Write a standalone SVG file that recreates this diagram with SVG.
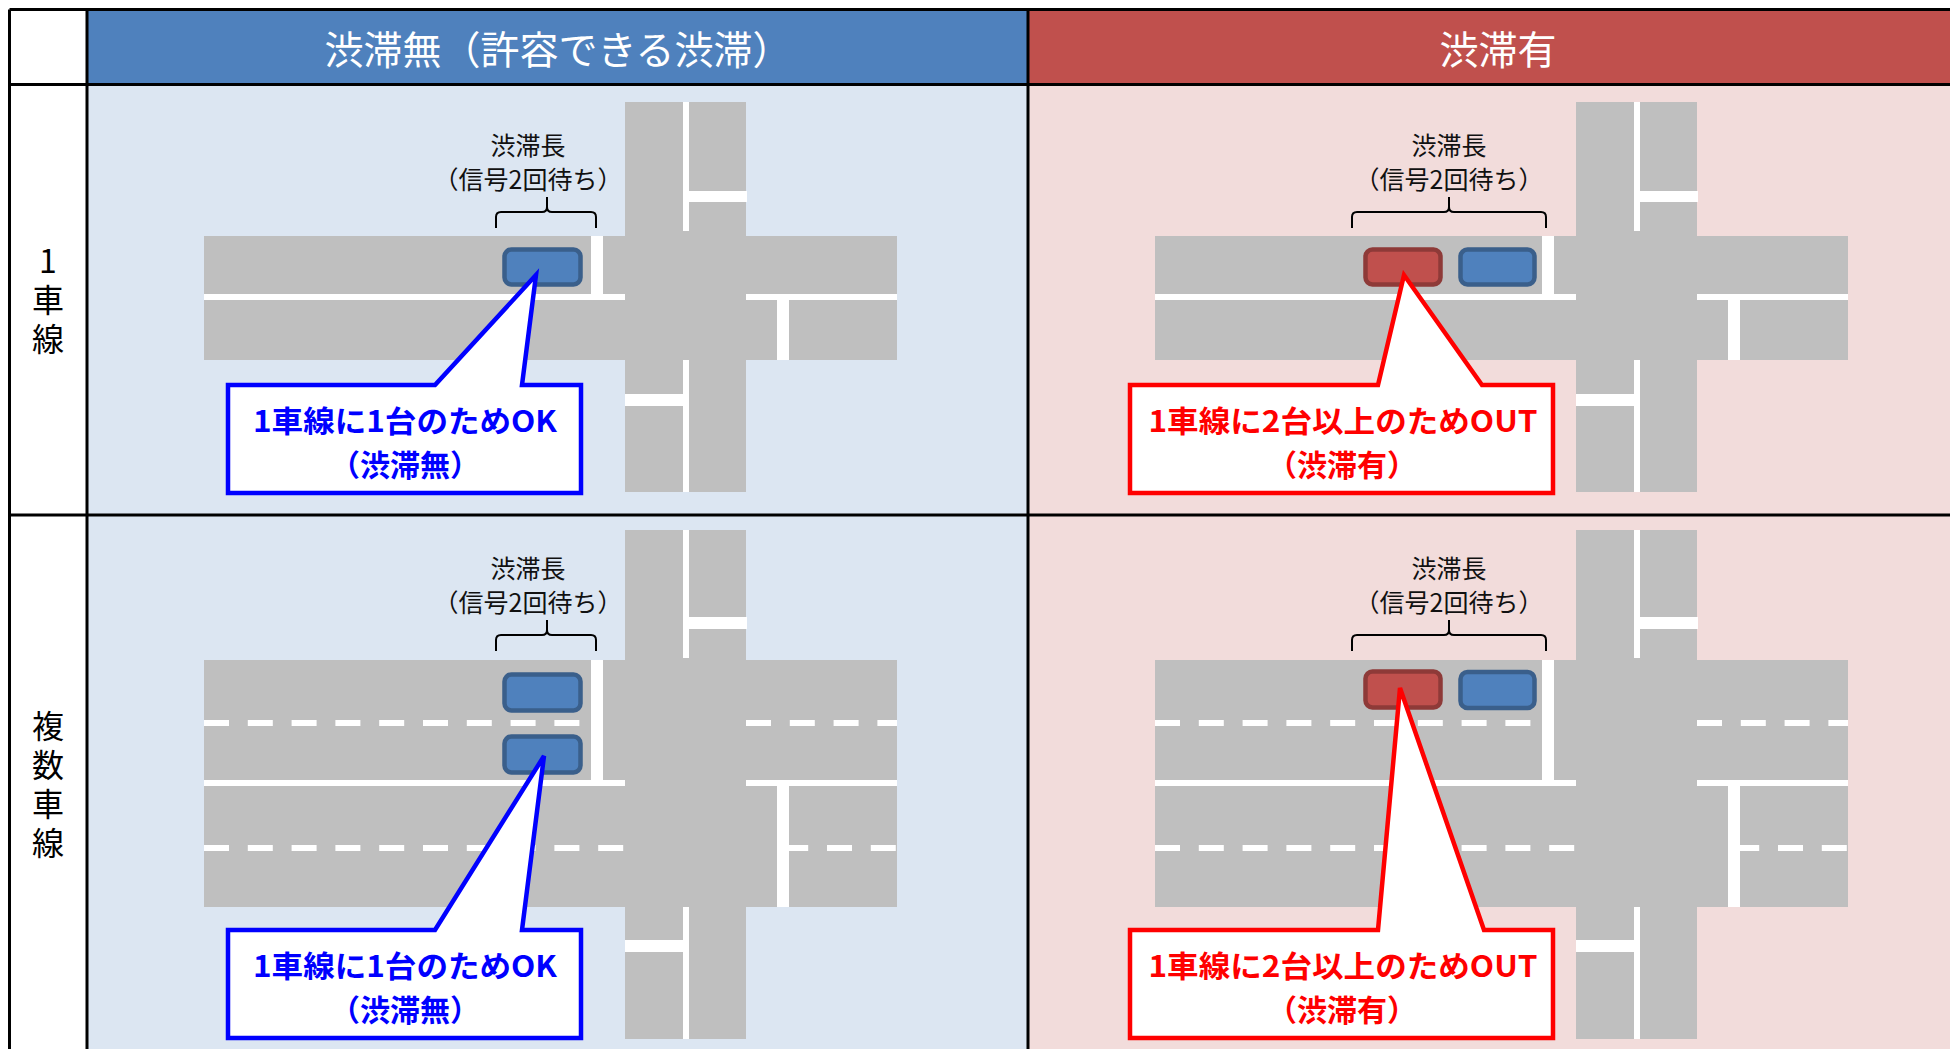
<svg xmlns="http://www.w3.org/2000/svg" xmlns:xlink="http://www.w3.org/1999/xlink" width="1950" height="1049" viewBox="0 0 1950 1049">
<style>
.grid{stroke:#000;stroke-width:3;fill:none}
.road{fill:#BFBFBF}
.wl{fill:#FFFFFF}
.dash{stroke:#FFFFFF;stroke-width:6;stroke-dasharray:25 18.8;fill:none}
.carB{fill:#4F81BD;stroke:#3A5F8B;stroke-width:4.5}
.carR{fill:#C0504D;stroke:#8E3A38;stroke-width:4.5}
.brk{fill:none;stroke:#000;stroke-width:2}
.calB{fill:#FFFFFF;stroke:#0000FF;stroke-width:4.5;stroke-linejoin:miter}
.calR{fill:#FFFFFF;stroke:#FF0000;stroke-width:4.5;stroke-linejoin:miter}
.hdr{font-family:"Noto Sans CJK JP","Noto Sans",sans-serif;font-size:39px;fill:#FFFFFF;text-anchor:middle}
.lbl{font-family:"Noto Sans CJK JP","Noto Sans",sans-serif;font-size:25px;fill:#111;text-anchor:middle}
.side{font-family:"Noto Sans CJK JP","Noto Sans",sans-serif;font-size:32px;fill:#000;writing-mode:vertical-rl;text-orientation:upright;letter-spacing:7px}
.ctB{font-family:"Noto Sans CJK JP","Noto Sans",sans-serif;font-size:30px;font-weight:700;fill:#0000FF;text-anchor:middle}
.ctR{font-family:"Noto Sans CJK JP","Noto Sans",sans-serif;font-size:30px;font-weight:700;fill:#FF0000;text-anchor:middle}
</style>
<defs>
<g id="roads1">
<rect class="road" x="204" y="236" width="693" height="124"/>
<rect class="road" x="625" y="102" width="121" height="390"/>
<rect class="wl" x="204" y="294" width="421" height="6"/>
<rect class="wl" x="746" y="294" width="151" height="6"/>
<rect class="wl" x="591" y="236" width="12" height="58"/>
<rect class="wl" x="777" y="300" width="12" height="60"/>
<rect class="wl" x="683" y="102" width="6" height="129"/>
<rect class="wl" x="683" y="360" width="6" height="132"/>
<rect class="wl" x="689" y="191" width="58" height="11"/>
<rect class="wl" x="625" y="394" width="58" height="12"/>
</g>
<g id="roads2">
<rect class="road" x="204" y="660" width="693" height="247"/>
<rect class="road" x="625" y="530" width="121" height="509"/>
<rect class="wl" x="204" y="780" width="421" height="6"/>
<rect class="wl" x="746" y="780" width="151" height="6"/>
<line class="dash" x1="204" y1="723" x2="580" y2="723"/>
<line class="dash" x1="746" y1="723" x2="897" y2="723"/>
<line class="dash" x1="204" y1="848" x2="625" y2="848"/>
<line class="dash" x1="789" y1="848" x2="897" y2="848" stroke-dashoffset="5.8"/>
<rect class="wl" x="591" y="660" width="12" height="120"/>
<rect class="wl" x="777" y="786" width="12" height="121"/>
<rect class="wl" x="683" y="530" width="6" height="128"/>
<rect class="wl" x="683" y="907" width="6" height="132"/>
<rect class="wl" x="689" y="617" width="58" height="12"/>
<rect class="wl" x="625" y="940" width="58" height="12"/>
</g>
</defs>

<rect x="0" y="0" width="1950" height="1049" fill="#FFFFFF"/>

<g id="table">
<rect x="87" y="9.5" width="941" height="75" fill="#4F81BD"/>
<rect x="1028" y="9.5" width="922" height="75" fill="#C0504D"/>
<rect x="87" y="84.5" width="941" height="964.5" fill="#DCE6F2"/>
<rect x="1028" y="84.5" width="922" height="964.5" fill="#F2DCDB"/>
<line class="grid" x1="9.5" y1="9.5" x2="1950" y2="9.5"/>
<line class="grid" x1="9.5" y1="84.5" x2="1950" y2="84.5"/>
<line class="grid" x1="9.5" y1="515" x2="1950" y2="515"/>
<line class="grid" x1="9.5" y1="9.5" x2="9.5" y2="1049"/>
<line class="grid" x1="87" y1="9.5" x2="87" y2="1049"/>
<line class="grid" x1="1028" y1="9.5" x2="1028" y2="1049"/>
</g>

<g id="header-no-jam"><text class="hdr" x="558" y="64">渋滞無（許容できる渋滞）</text></g>
<g id="header-jam"><text class="hdr" x="1498" y="64">渋滞有</text></g>
<g id="row-single"><text class="side" x="48" y="245">1車線</text></g>
<g id="row-multi"><text class="side" x="48" y="710">複数車線</text></g>

<g id="roads">
<use xlink:href="#roads1" href="#roads1"/>
<use xlink:href="#roads1" href="#roads1" transform="translate(951,0)"/>
<use xlink:href="#roads2" href="#roads2"/>
<use xlink:href="#roads2" href="#roads2" transform="translate(951,0)"/>
</g>

<g id="cars">
<rect class="carB" x="504.5" y="249.5" width="76" height="35" rx="7"/>
<rect class="carB" x="504.5" y="674.5" width="76" height="36" rx="7"/>
<rect class="carB" x="504.5" y="736.5" width="76" height="36" rx="7"/>
<rect class="carR" x="1365.5" y="249.5" width="75" height="35" rx="7"/>
<rect class="carB" x="1460.5" y="249.5" width="74" height="35" rx="7"/>
<rect class="carR" x="1365.5" y="671.5" width="75" height="36" rx="7"/>
<rect class="carB" x="1460.5" y="672" width="74" height="36" rx="7"/>
</g>

<g id="connectors">
<path class="brk" d="M496,228 V217 Q496,212 501,212 H542 Q547,212 547,207 V197 M547,207 Q547,212 552,212 H591 Q596,212 596,217 V228"/>
<path class="brk" d="M496,651 V640 Q496,635 501,635 H542 Q547,635 547,630 V620 M547,630 Q547,635 552,635 H591 Q596,635 596,640 V651"/>
<path class="brk" d="M1352,228 V217 Q1352,212 1357,212 H1444 Q1449,212 1449,207 V197 M1449,207 Q1449,212 1454,212 H1541 Q1546,212 1546,217 V228"/>
<path class="brk" d="M1352,651 V640 Q1352,635 1357,635 H1444 Q1449,635 1449,630 V620 M1449,630 Q1449,635 1454,635 H1541 Q1546,635 1546,640 V651"/>
</g>

<g id="label-len-1">
<text class="lbl" x="528" y="155">渋滞長</text>
<text class="lbl" x="528" y="189">（信号2回待ち）</text>
</g>
<g id="label-len-2">
<text class="lbl" x="1449" y="155">渋滞長</text>
<text class="lbl" x="1449" y="189">（信号2回待ち）</text>
</g>
<g id="label-len-3">
<text class="lbl" x="528" y="578">渋滞長</text>
<text class="lbl" x="528" y="612">（信号2回待ち）</text>
</g>
<g id="label-len-4">
<text class="lbl" x="1449" y="578">渋滞長</text>
<text class="lbl" x="1449" y="612">（信号2回待ち）</text>
</g>

<g id="callout-ok-1">
<path class="calB" d="M228,385 H435 L536,275 L522,385 H581 V493 H228 Z"/>
<text class="ctB" x="405" y="432" textLength="304" lengthAdjust="spacingAndGlyphs">1車線に1台のためOK</text>
<text class="ctB" x="405" y="476">（渋滞無）</text>
</g>
<g id="callout-out-1">
<path class="calR" d="M1130,385 H1378 L1404,275 L1482,385 H1553 V493 H1130 Z"/>
<text class="ctR" x="1343" y="432" textLength="389" lengthAdjust="spacingAndGlyphs">1車線に2台以上のためOUT</text>
<text class="ctR" x="1342" y="476">（渋滞有）</text>
</g>
<g id="callout-ok-2">
<path class="calB" d="M228,930 H435 L544,756 L522,930 H581 V1038 H228 Z"/>
<text class="ctB" x="405" y="977" textLength="304" lengthAdjust="spacingAndGlyphs">1車線に1台のためOK</text>
<text class="ctB" x="405" y="1021">（渋滞無）</text>
</g>
<g id="callout-out-2">
<path class="calR" d="M1130,930 H1378 L1400,688 L1484,930 H1553 V1038 H1130 Z"/>
<text class="ctR" x="1343" y="977" textLength="389" lengthAdjust="spacingAndGlyphs">1車線に2台以上のためOUT</text>
<text class="ctR" x="1342" y="1021">（渋滞有）</text>
</g>
</svg>
